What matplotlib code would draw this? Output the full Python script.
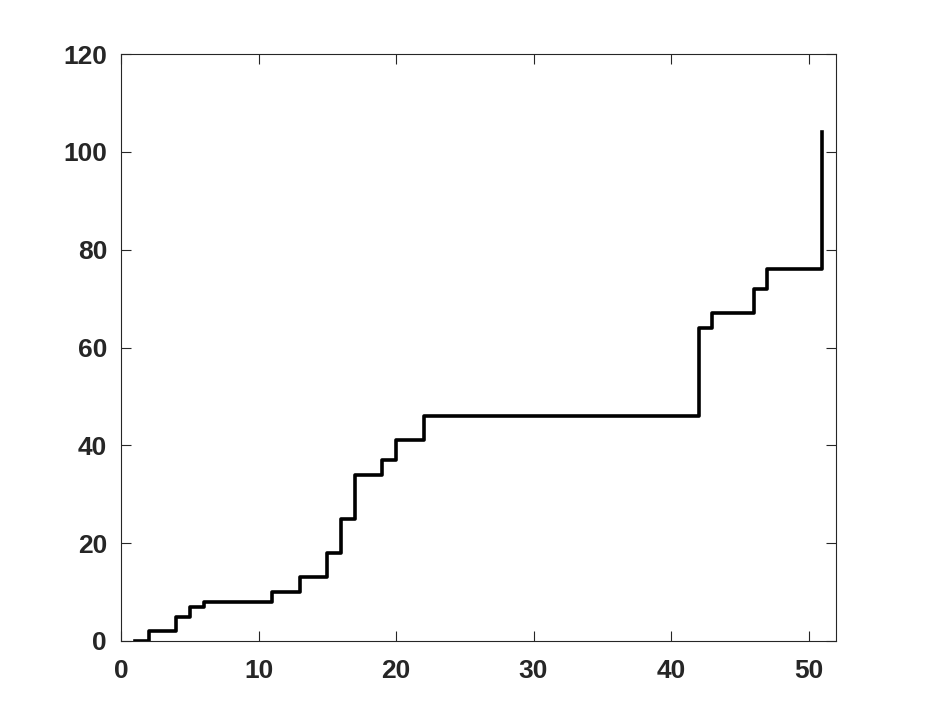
import matplotlib
matplotlib.use("Agg")
import matplotlib.pyplot as plt

# step data (stairs, post)
x = [1, 2, 4, 5, 6, 11, 13, 15, 16, 17, 19, 20, 22, 42, 43, 46, 47, 51]
y = [0, 2, 5, 7, 8, 10, 13, 18, 25, 34, 37, 41, 46, 64, 67, 72, 76, 104]

xticks = [0, 10, 20, 30, 40, 50]
yticks = [0, 20, 40, 60, 80, 100, 120]

plt.rcParams['font.family'] = ['Liberation Sans', 'DejaVu Sans']
axcol = '#262626'

fig = plt.figure(figsize=(9.25, 7.2), dpi=100)
ax = fig.add_axes([121 / 925, 1 - 641 / 720, (836 - 121) / 925, (641 - 54) / 720])

ax.step(x, y, where='post', color='black', linewidth=2.6)

ax.set_xlim(0, 52)
ax.set_ylim(0, 120)
ax.set_xticks(xticks)
ax.set_yticks(yticks)

for s in ax.spines.values():
    s.set_color(axcol)
    s.set_linewidth(0.8)
ax.tick_params(axis='both', direction='in', length=7, width=0.8, color=axcol,
               labelcolor=axcol, labelsize=19, top=True, right=True)
ax.tick_params(axis='x', pad=13)
ax.tick_params(axis='y', pad=10)
for lab in ax.get_xticklabels() + ax.get_yticklabels():
    lab.set_fontweight('bold')

fig.savefig("out.png", dpi=100)
